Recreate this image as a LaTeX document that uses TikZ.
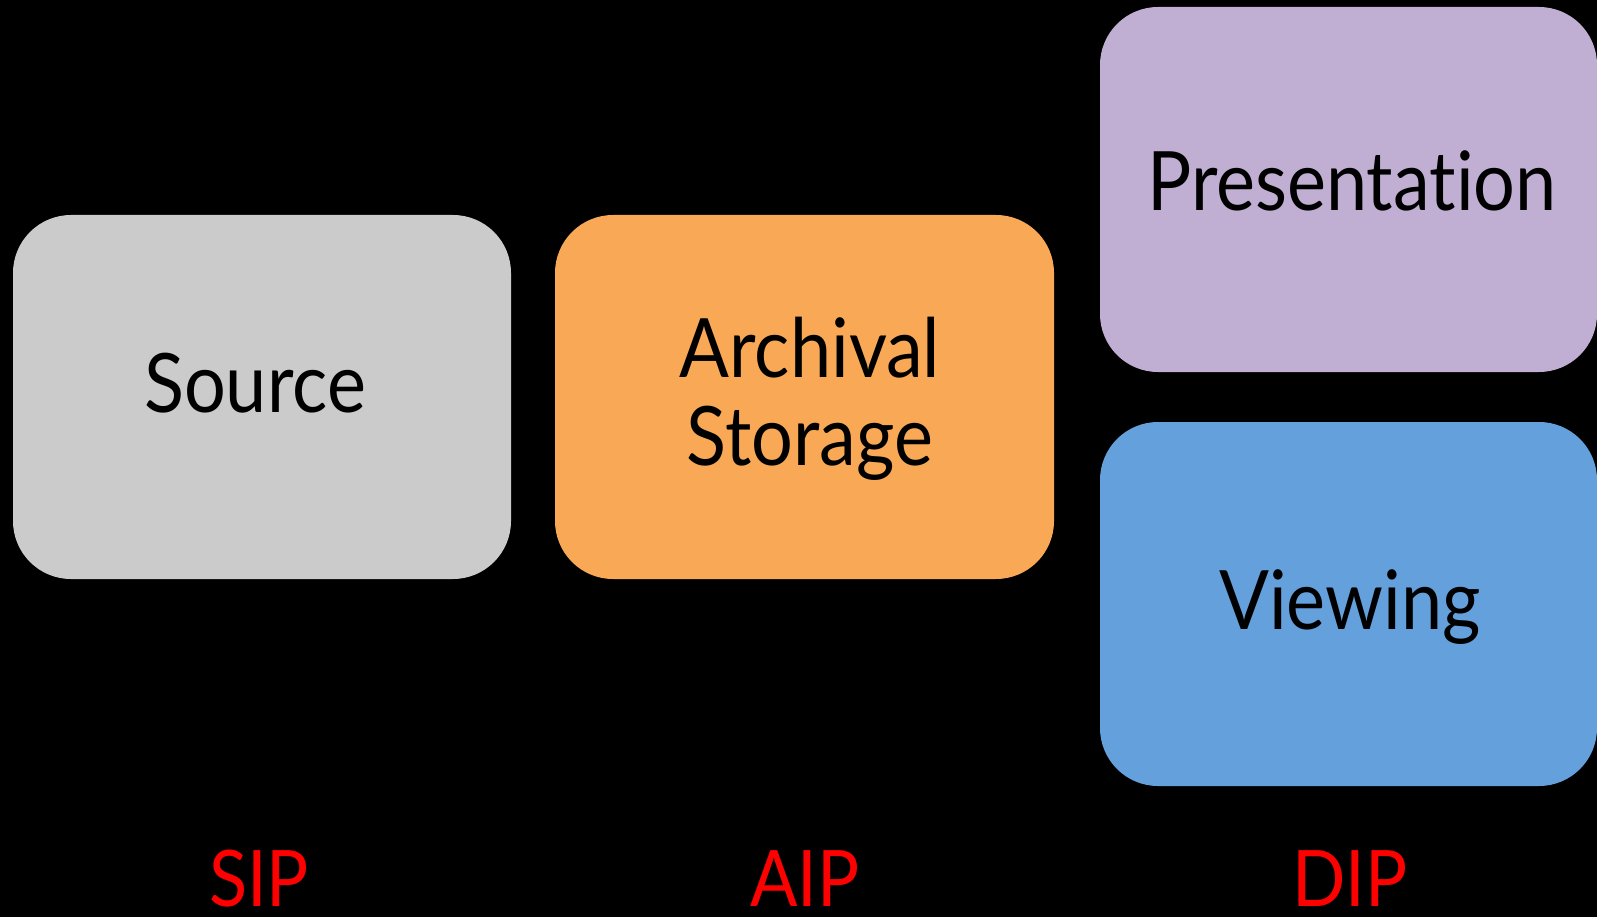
\documentclass[tikz,border=0pt]{standalone}
\usepackage{fontspec}
\setmainfont{Lato}[FakeStretch=0.9, Ligatures={NoCommon}]
\definecolor{srcgray}{HTML}{CBCBCB}
\definecolor{aiporange}{HTML}{F9A856}
\definecolor{prespurple}{HTML}{C0AFD3}
\definecolor{viewblue}{HTML}{64A0DC}
\definecolor{labred}{HTML}{FF0000}
\tikzset{
  boxtext/.style={anchor=base, inner sep=0pt, text=black, font=\fontsize{82}{89}\selectfont},
  lab/.style={anchor=base, inner sep=0pt, text depth=0pt, text=labred, font=\fontsize{78}{80}\selectfont},
}
\begin{document}
\begin{tikzpicture}[x=1pt,y=1pt]
\fill[black] (0,0) rectangle (1597,-917);
\useasboundingbox (0,0) rectangle (1597,-917);
\fill[srcgray, rounded corners=58pt] (13,-215) rectangle (511,-579);
\fill[aiporange, rounded corners=58pt] (555,-215) rectangle (1054,-579);
\fill[prespurple, rounded corners=58pt] (1100,-7) rectangle (1597,-372);
\fill[viewblue, rounded corners=58pt] (1100,-422) rectangle (1597,-786);
\node[boxtext] (src) at (255,-412.5) {Source};
\node[boxtext] (arch) at (810,-377) {Archival};
\node[boxtext] (stor) at (810,-465.5) {Storage};
\node[boxtext] (pres) at (1352,-211) {Presentation};
\node[boxtext] (view) at (1350,-629.5) {Viewing};
\node[lab] (sip) at (259,-906) {SIP};
\node[lab] (aip) at (805,-906) {AIP};
\node[lab] (dip) at (1350,-906) {DIP};
\end{tikzpicture}
\end{document}
